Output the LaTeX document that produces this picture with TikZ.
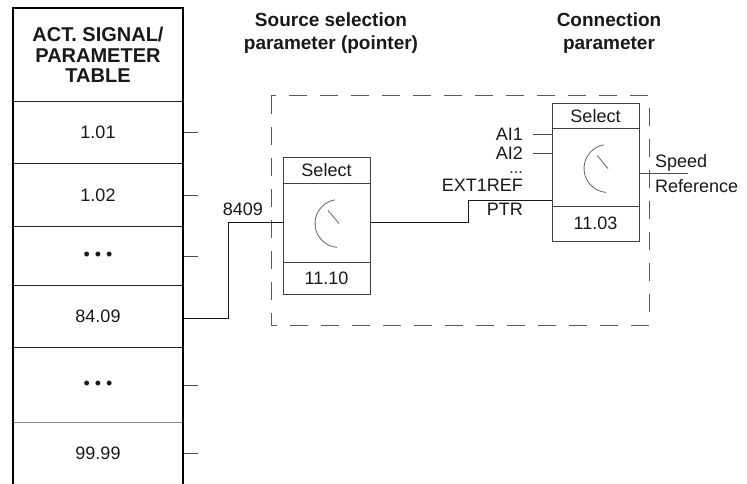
\documentclass[tikz,border=0pt]{standalone}
\usepackage{fontspec}
\setmainfont{Liberation Sans}
\usetikzlibrary{calc}
\begin{document}
\begin{tikzpicture}[x=1pt,y=-1pt,
  txt/.style={font=\fontsize{18}{21}\selectfont, inner sep=0pt, text=black!90},
  ttl/.style={font=\bfseries\fontsize{19}{23}\selectfont, align=center, inner sep=0pt, text=black!90},
  cell/.style={draw=black!85, line width=1.2pt, minimum width=170pt, inner sep=0pt,
    font=\fontsize{18}{21}\selectfont, anchor=north, text=black!90},
  part/.style={draw=black!75, line width=1pt, minimum width=87pt, inner sep=0pt,
    font=\fontsize{18}{21}\selectfont, text=black!90},
  conn/.style={line width=1.6pt, draw=black!90},
  tickline/.style={line width=0.9pt, draw=black!70},
  dialline/.style={line width=0.8pt, draw=black!60},
  groupbox/.style={line width=1pt, draw=black!65, dash pattern=on 18pt off 13pt},
]
\useasboundingbox (0,0) rectangle (747,484);
\fill[white] (0,0) rectangle (747,484);

% titles
\node[ttl, anchor=north] (t1) at (331,13) {Source selection\\parameter (pointer)};
\node[ttl, anchor=north] (t2) at (609,13) {Connection\\parameter};

% table
\node[cell, minimum height=93pt, font=\bfseries\fontsize{20}{20.5}\selectfont, align=center] (hdr) at (98,8) {ACT. SIGNAL/\\PARAMETER\\TABLE};
\node[cell, minimum height=62pt] (r1) at (98,101) {1.01};
\node[cell, minimum height=63pt] (r2) at (98,163) {1.02};
\node[cell, minimum height=59pt] (r3) at (98,226) {• • •};
\node[cell, minimum height=62pt] (r4) at (98,285) {84.09};
\node[cell, minimum height=75pt] (r5) at (98,347) {• • •};
\node[cell, minimum height=62pt, draw=black!45] (r6) at (98,422) {99.99};
\draw[line width=2.6pt] (13,486) -- (13,8) -- (183,8) -- (183,486);

% table ticks
\foreach \r in {r1,r2,r3,r5,r6} \draw[tickline] (\r.east) -- ++(14,0);

% group box
\draw[groupbox] (271,96) rectangle (649,325);

% select block 1
\node[part, minimum height=25pt] (b1t) at (326.5,170.5) {Select};
\node[part, minimum height=79pt] (b1m) at (326.5,222.5) {};
\node[part, minimum height=32pt] (b1b) at (326.5,278) {11.10};
\coordinate (d1) at ($(b1m.center)+(12.5,1)$);
\draw[dialline] (d1) ++(95:24) arc[start angle=95,end angle=260,radius=24];
\draw[dialline] (d1) -- ++(-130:17);

% select block 2
\node[part, minimum height=25pt] (b2t) at (595.5,116.5) {Select};
\node[part, minimum height=77pt] (b2m) at (595.5,167.5) {};
\node[part, minimum height=35pt] (b2b) at (595.5,223.5) {11.03};
\coordinate (d2) at ($(b2m.center)+(12.5,1)$);
\draw[dialline] (d2) ++(95:24) arc[start angle=95,end angle=260,radius=24];
\draw[dialline] (d2) -- ++(-130:17);

% connections
\draw[conn] (r4.east) ++(0,2) -- ++(45,0) |- (b1m.west);
\node[txt, anchor=base east] (l8409) at (263,215) {8409};
\coordinate (in2) at ($(b2m.south west)+(0,-6)$);
\draw[conn] (b1m.east) -- ++(98,0) |- (in2);

% inputs of block 2
\coordinate (ai1) at ($(b2m.north west)+(0,6)$);
\coordinate (ai2) at ($(b2m.north west)+(0,25)$);
\draw[tickline] (ai1) -- ++(-19,0);
\draw[tickline] (ai2) -- ++(-19,0);
\node[txt, anchor=base east] (lai1) at (523,141) {AI1};
\node[txt, anchor=base east] (lai2) at (523,160) {AI2};
\node[txt, anchor=base east, font=\fontsize{16}{18}\selectfont] (ldots) at (523,173.5) {...};
\node[txt, anchor=base east] (lext) at (523,191.5) {EXT1REF};
\node[txt, anchor=base east] (lptr) at (523,215) {PTR};

% output
\coordinate (out2) at ($(b2m.east)+(0,5.5)$);
\draw[tickline] (out2) -- ++(48,0);
\node[txt, anchor=west, align=left, font=\fontsize{18}{25}\selectfont] (lout) at (655,174) {Speed\\Reference};
\end{tikzpicture}
\end{document}
